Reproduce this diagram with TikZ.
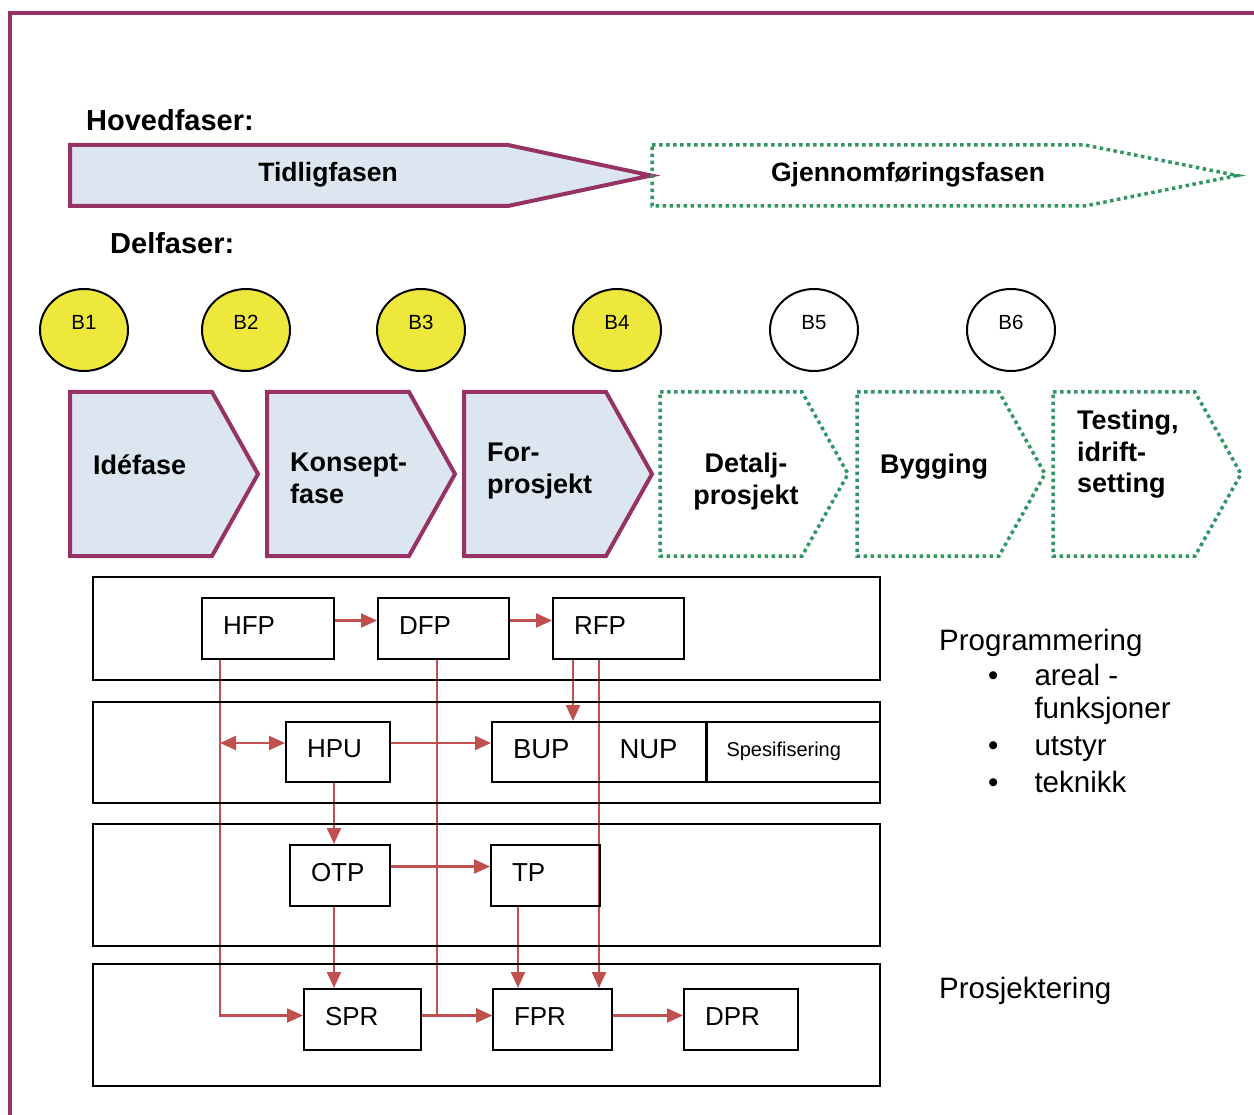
\documentclass[tikz,border=0pt]{standalone}
\usepackage{fontspec}
\setmainfont{Liberation Sans}
\usetikzlibrary{calc,arrows.meta,shapes.geometric,backgrounds}
\definecolor{framepurple}{RGB}{150,50,100}
\definecolor{phaseblue}{RGB}{220,230,241}
\definecolor{phasegreen}{RGB}{50,150,100}
\definecolor{milestone}{RGB}{238,232,60}
\definecolor{flowred}{RGB}{192,80,77}
\newcommand{\pxsize}{1pt}
\newcommand{\makechevron}[2]{
	\draw[#2] (#1,392) -- ++(142,0) -- ++(46,82) -- ++(-46,82) -- ++(-142,0) -- cycle;
}
\tikzset{
	early/.style={draw=framepurple, fill=phaseblue, line width=4pt},
	later/.style={draw=phasegreen, line width=3.5pt, dash pattern=on 3.5pt off 3.5pt},
	head/.style={font=\bfseries\fontsize{29}{34}\selectfont, anchor=base west, inner sep=0pt},
	phase/.style={font=\bfseries\fontsize{26.5}{31}\selectfont, anchor=base, inner sep=0pt},
	sub/.style={font=\bfseries\fontsize{27}{31.5}\selectfont, align=left, anchor=north west, inner sep=0pt},
	mile/.style={ellipse, draw, line width=2pt, minimum width=88pt, minimum height=82pt, inner sep=0pt, text depth=16pt, font=\fontsize{20.5}{24}\selectfont},
	lane/.style={draw, line width=2.5pt},
	pbox/.style={draw, line width=2pt, inner xsep=21pt, inner ysep=0pt, minimum height=61pt, text depth=6pt, align=left, font=\fontsize{26}{30}\selectfont},
	flow/.style={draw=flowred, line width=2.2pt, ->},
	both/.style={draw=flowred, line width=2.2pt, <->},
	note/.style={font=\fontsize{29.5}{35}\selectfont, anchor=base west, inner sep=0pt}
}

\begin{document}
\begin{tikzpicture}[x=\pxsize,y=-\pxsize,>={Triangle[length=16pt,width=14pt]}]
	\useasboundingbox (0,0) rectangle (1254,1115);
	\draw[framepurple, line width=4pt] (10,1115) -- (10,13) -- (1254,13);

	\node[head] (hoved) at (86,131) {Hovedfaser:};
	\draw[early] (70,145) -- (508,145) -- (651,175.5) -- (508,206) -- (70,206) -- cycle;
	\draw[later] (652,145) -- (1085,145) -- (1237,175.5) -- (1085,206) -- (652,206) -- cycle;
	\node[phase] (tidlig) at (328,181.5) {Tidligfasen};
	\node[phase] (gjennom) at (908,181.5) {Gjennomføringsfasen};

	\node[head] (del) at (110,254) {Delfaser:};
	\foreach \x/\name/\col in {84/B1/milestone, 246/B2/milestone, 421/B3/milestone, 617/B4/milestone, 814/B5/white, 1011/B6/white}
		\node[mile, fill=\col] (\name) at (\x,330) {\name};

	\foreach \x in {70,267,464} {\makechevron{\x}{early}}
	\foreach \x in {660,857,1053} {\makechevron{\x}{later}}
	\node[sub] (idefase) at (93,454) {Id\'efase};
	\node[sub] (konsept) at (290,453) {Konsept-\\fase};
	\node[sub] (forprosjekt) at (487,443) {For-\\prosjekt};
	\node[sub, align=center, anchor=north] (detalj) at (746,453) {Detalj-\\prosjekt};
	\node[sub] (bygging) at (880,454) {Bygging};
	\node[sub] (testing) at (1077,410) {Testing,\\idrift-\\setting};

	\foreach \t/\b in {577/680, 702/803, 824/946, 964/1086}
		\draw[lane] (93,\t) rectangle (880,\b);

	\node[pbox, text width=90pt] (HFP) at (268,628.5) {HFP};
	\node[pbox, text width=89pt] (DFP) at (443.5,628.5) {DFP};
	\node[pbox, text width=89pt] (RFP) at (618.5,628.5) {RFP};
	\node[pbox, text width=62pt, minimum height=60pt] (HPU) at (338,752) {HPU};
	\node[pbox, text width=172pt, minimum height=60pt, font=\fontsize{27.5}{30}\selectfont] (BUP) at (599,752) {BUP\hspace{50pt}NUP};
	\node[pbox, text width=133pt, inner xsep=20pt, minimum height=60pt, font=\fontsize{20}{24}\selectfont] (spes) at (793,752) {Spesifisering};
	\node[pbox, text width=58pt] (OTP) at (340,875.5) {OTP};
	\node[pbox, text width=67pt] (TP) at (545.5,875.5) {TP};
	\node[pbox, text width=75pt] (SPR) at (362.5,1019.5) {SPR};
	\node[pbox, text width=77pt] (FPR) at (552.5,1019.5) {FPR};
	\node[pbox, text width=72pt] (DPR) at (741,1019.5) {DPR};

	\coordinate (hd) at ($(HFP.south west)+(19,0)$);
	\coordinate (hx) at (hd |- HPU.west);
	\coordinate (dd) at ($(DFP.south west)+(60,0)$);
	\coordinate (ra) at ($(RFP.south west)+(21,0)$);
	\coordinate (rb) at ($(RFP.south west)+(47,0)$);
	\coordinate (tb) at ($(TP.south west)+(28,0)$);
	\begin{scope}[on background layer]
		\draw[flow] ($(HFP.east)+(0,-8)$) -- ($(DFP.west)+(0,-8)$);
		\draw[flow] ($(DFP.east)+(0,-8)$) -- ($(RFP.west)+(0,-8)$);
		\draw[flow] (hd) |- ($(SPR.west)+(0,-4)$);
		\draw[both] ($(hx)+(0,-9)$) -- ($(HPU.west)+(0,-9)$);
		\draw[flow] ($(HPU.east)+(0,-9)$) -- ($(BUP.west)+(0,-9)$);
		\draw[flow] ($(HPU.south)+(-4,0)$) -- ($(HPU.south |- OTP.north)+(-4,0)$);
		\draw[flow] ($(OTP.east)+(0,-9)$) -- ($(TP.west)+(0,-9)$);
		\draw[flow] ($(OTP.south)+(-6,0)$) -- ($(OTP.south |- SPR.north)+(-6,0)$);
		\draw[flow] (dd) |- ($(FPR.west)+(0,-4)$);
		\draw[flow] ($(SPR.east)+(0,-4)$) -- ($(FPR.west)+(0,-4)$);
		\draw[flow] (ra) -- (ra |- BUP.north);
		\draw[flow] (rb) -- (rb |- FPR.north);
		\draw[flow] (tb) -- (tb |- FPR.north);
		\draw[flow] ($(FPR.east)+(0,-4)$) -- ($(DPR.west)+(0,-4)$);
	\end{scope}

	\node[note] (prog) at (939,650) {Programmering};
	\node[note] (proglist) at (988,685) {\begin{tabular}[t]{@{}c@{\hspace{36pt}}l@{}}
		\textbullet & areal -\\[-2pt]
		 & funksjoner\\[2pt]
		\textbullet & utstyr\\[2pt]
		\textbullet & teknikk
	\end{tabular}};
	\node[note] (prosj) at (939,998) {Prosjektering};
\end{tikzpicture}
\end{document}
